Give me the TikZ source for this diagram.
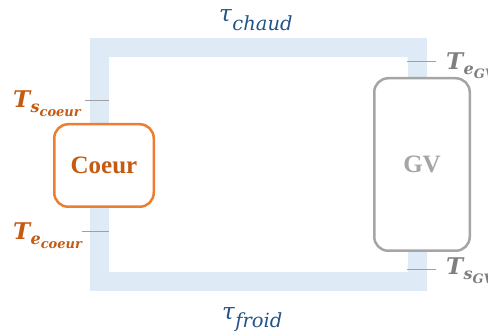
\documentclass[tikz,border=0pt]{standalone}
\usepackage{fontspec}
\newfontfamily\timesf{Liberation Serif}
\newfontfamily\dvs{DejaVu Serif}
\definecolor{pipe}{HTML}{DEEAF6}
\definecolor{orbox}{HTML}{ED7D31}
\definecolor{ortxt}{HTML}{C55A11}
\definecolor{gvbox}{HTML}{A5A5A5}
\definecolor{gvlbl}{HTML}{7F7F7F}
\definecolor{tick}{HTML}{A0A0A0}
\definecolor{taucol}{HTML}{245487}
% T with two-level subscript
\newcommand\TLab[2]{{\fontsize{23}{23}\selectfont T}\kern0.3pt%
  \raisebox{-4.5pt}{\fontsize{16}{16}\selectfont #1}%
  \raisebox{-8.5pt}{\fontsize{13}{13}\selectfont #2}}
% tau with subscript
\newcommand\TauLab[2]{{\fontsize{23}{23}\selectfont τ}\kern0.5pt%
  \raisebox{-#2}{\fontsize{19.5}{19.5}\selectfont #1}}
\tikzset{
  boxst/.style={rounded corners=14pt, line width=2.5pt, fill=white, inner sep=0pt},
  ticka/.style={draw=tick, line width=0.9pt},
  lbl/.style={inner sep=0pt, anchor=base west, font=\dvs\bfseries\itshape},
  taul/.style={inner sep=0pt, anchor=base west, text=taucol, font=\dvs\itshape}
}
\begin{document}
\begin{tikzpicture}[x=1pt,y=-1pt]
\useasboundingbox (0,0) rectangle (488,336);
% pipe loop
\draw[pipe, line width=19.5pt, line join=miter] (99.5,47.5) rectangle (417.5,281.5);
% ticks
\coordinate (tsc1) at (85,100); \coordinate (tsc2) at (109,100);
\coordinate (tec1) at (82,231); \coordinate (tec2) at (109,231);
\coordinate (teg1) at (407,61); \coordinate (teg2) at (436,61);
\coordinate (tsg1) at (407,269); \coordinate (tsg2) at (436,269);
\draw[ticka] (tsc1) -- (tsc2);
\draw[ticka] (tec1) -- (tec2);
\draw[ticka] (teg1) -- (teg2);
\draw[ticka] (tsg1) -- (tsg2);
% boxes
\node[boxst, draw=orbox, minimum width=99.5pt, minimum height=82.5pt, text=ortxt,
  font=\timesf\bfseries\fontsize{25}{29}\selectfont] (coeur) at (104,165.5) {Coeur};
\node[boxst, draw=gvbox, minimum width=95.5pt, minimum height=172.5pt, text=gvbox,
  font=\timesf\bfseries\fontsize{25}{29}\selectfont] (gv) at (422,164.5) {GV};
% labels
\node[lbl, text=ortxt] (lsc) at (13,108) {\TLab{s}{coeur}};
\node[lbl, text=ortxt] (lec) at (13,240) {\TLab{e}{coeur}};
\node[lbl, text=gvlbl] (leg) at (446,70) {\TLab{e}{GV}};
\node[lbl, text=gvlbl] (lsg) at (446,275) {\TLab{s}{GV}};
\node[taul] (tch) at (219,22) {\TauLab{chaud}{9pt}};
\node[taul] (tfr) at (222,320) {\TauLab{froid}{8pt}};
\end{tikzpicture}
\end{document}
